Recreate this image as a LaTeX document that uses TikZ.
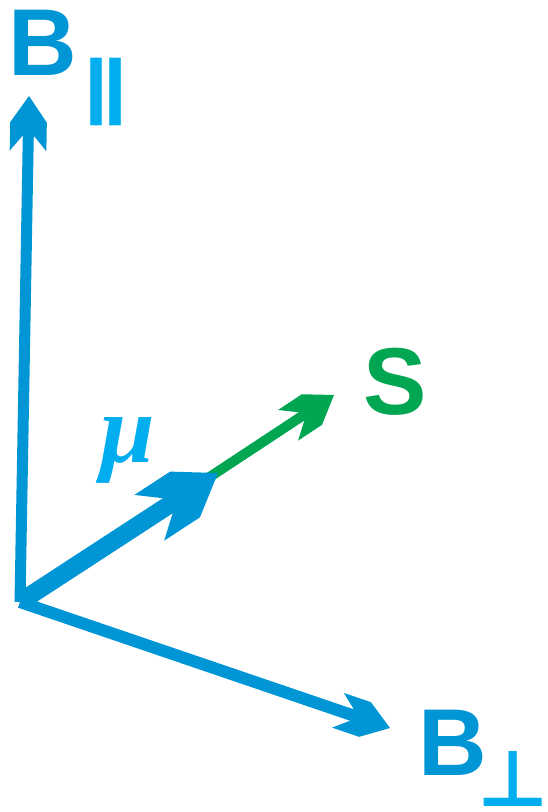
\documentclass[tikz,border=0pt]{standalone}
\usepackage{fontspec}
\setmainfont{Liberation Sans}
\newfontfamily\symfnt{DejaVu Sans}
\newfontfamily\serifit{Liberation Serif}
\usetikzlibrary{arrows.meta}
\definecolor{arrblue}{RGB}{0,150,214}
\definecolor{litblue}{RGB}{0,174,239}
\definecolor{spingreen}{RGB}{0,166,81}
\pgfdeclarearrow{
  name = Blade,
  parameters = {\the\pgfarrowlength},
  setup code = {
    \pgfarrowssettipend{0pt}
    \pgfarrowssetlineend{-0.5\pgfarrowlength}
    \pgfarrowssetvisualbackend{-0.6\pgfarrowlength}
    \pgfarrowssetbackend{-\pgfarrowlength}
    \pgfarrowshullpoint{0pt}{0pt}
    \pgfarrowsupperhullpoint{-\pgfarrowlength}{0.333\pgfarrowlength}
    \pgfarrowssavethe\pgfarrowlength
  },
  drawing code = {
    \pgfpathmoveto{\pgfpointorigin}
    \pgfpathlineto{\pgfpoint{-0.48\pgfarrowlength}{0.333\pgfarrowlength}}
    \pgfpathlineto{\pgfpoint{-\pgfarrowlength}{0.333\pgfarrowlength}}
    \pgfpathlineto{\pgfpoint{-0.6\pgfarrowlength}{0pt}}
    \pgfpathlineto{\pgfpoint{-\pgfarrowlength}{-0.333\pgfarrowlength}}
    \pgfpathlineto{\pgfpoint{-0.48\pgfarrowlength}{-0.333\pgfarrowlength}}
    \pgfpathclose
    \pgfusepathqfill
  },
  defaults = {length = 55pt}
}
\begin{document}
\begin{tikzpicture}[x=1pt,y=-1pt,
  vec/.style={line width=#1, line cap=butt},
  lab/.style={inner sep=0pt, anchor=center},
  bigbold/.style={font=\fontsize{95}{95}\selectfont\bfseries}]
\useasboundingbox (0,0) rectangle (547,812);
\coordinate (O) at (20,602);
\coordinate (Bpar) at (29,96);
\coordinate (Bperp) at (390,728);
\coordinate (Mu) at (218,473);
\coordinate (Stip) at (334,395);
\draw[color=spingreen, vec=10pt, -{Blade[length=55pt]}] (O) -- (Stip);
\draw[color=arrblue, vec=11pt, -{Blade[length=55pt]}] (O) -- (Bpar);
\draw[color=arrblue, vec=12pt, -{Blade[length=55pt]}] (O) -- (Bperp);
\draw[color=arrblue, vec=18pt, -{Blade[length=82pt]}] (O) -- (Mu);
\node[lab, bigbold, text=arrblue] (Btop) at (42.5,43) {B};
\node[lab, text=litblue, font=\symfnt\bfseries\fontsize{69}{69}\selectfont] (par) at (104.5,91.5) {\scalebox{1.45}[1]{∥}};
\node[lab, bigbold, text=spingreen] (S) at (395,381.5) {S};
\node[lab, text=litblue, font=\serifit\bfseries\itshape\fontsize{98}{98}\selectfont] (mu) at (128,450) {μ};
\node[lab, bigbold, text=arrblue] (Bbot) at (452.5,742.5) {B};
\node[lab, text=litblue, font=\symfnt\bfseries\fontsize{78}{78}\selectfont] (perp) at (513,779) {⊥};
\end{tikzpicture}
\end{document}
